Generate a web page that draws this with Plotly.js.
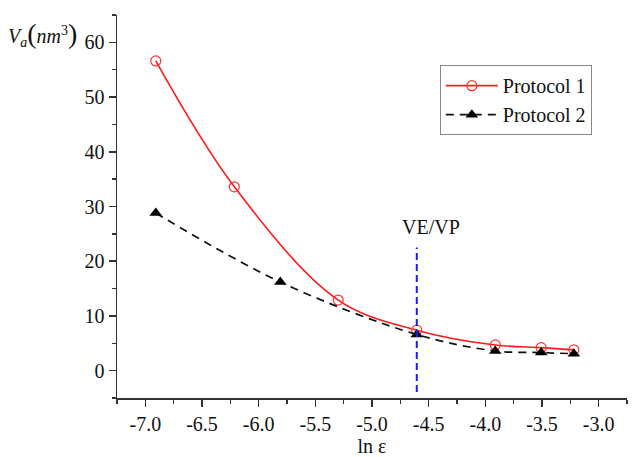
<!DOCTYPE html>
<html>
<head>
<meta charset="utf-8">
<script src="https://cdn.plot.ly/plotly-3.0.1.min.js"></script>
<style>
  html, body { margin: 0; padding: 0; background: #fff; }
  #chart { width: 634px; height: 457px; }
</style>
</head>
<body>
<div id="chart"></div>
<script>
// Activation volume against ln of strain rate for the two protocols
const p1X = [-6.908, -6.215, -5.298, -4.605, -3.912, -3.507, -3.219];
const p1Y = [56.6, 33.6, 12.9, 7.4, 4.7, 4.2, 3.8];

const p2X = [-6.908, -5.809, -4.605, -3.912, -3.507, -3.219];
const p2Y = [28.8, 16.2, 6.6, 3.6, 3.3, 3.1];

// VE/VP boundary marker
const boundaryX = [-4.605, -4.605];
const boundaryY = [-3.9, 22.5];

const xTickVals = [-7.0, -6.5, -6.0, -5.5, -5.0, -4.5, -4.0, -3.5, -3.0];
const xTickText = ['-7.0', '-6.5', '-6.0', '-5.5', '-5.0', '-4.5', '-4.0', '-3.5', '-3.0'];
const yTickVals = [0, 10, 20, 30, 40, 50, 60];
const yTickText = ['0', '10', '20', '30', '40', '50', '60'];

const serif = 'Liberation Serif, Times New Roman, serif';

const traces = [
  {
    x: p1X, y: p1Y, name: 'Protocol 1', type: 'scatter', mode: 'lines+markers',
    line: { color: '#ff1a1a', width: 1.6, shape: 'spline', smoothing: 1 },
    marker: { symbol: 'circle-open', size: 10, color: '#ff3333', line: { width: 1.2, color: '#ff3333' } }
  },
  {
    x: p2X, y: p2Y, name: 'Protocol 2', type: 'scatter', mode: 'lines+markers',
    line: { color: '#111', width: 1.7, dash: '8px,6px', shape: 'spline', smoothing: 1 },
    marker: { symbol: 'triangle-up', size: 11, color: '#000' }
  },
  {
    x: boundaryX, y: boundaryY, type: 'scatter', mode: 'lines', showlegend: false, hoverinfo: 'skip',
    line: { color: '#1a1aff', width: 2, dash: '7px,4px' }
  }
];

const layout = {
  width: 634, height: 457,
  margin: { l: 117, r: 7, t: 15, b: 59 },
  paper_bgcolor: '#fff', plot_bgcolor: '#fff',
  font: { family: serif, size: 20, color: '#111' },
  showlegend: true,
  legend: {
    x: 0.633, y: 0.869, xanchor: 'left', yanchor: 'top',
    bgcolor: '#fff', bordercolor: '#888', borderwidth: 1,
    font: { family: serif, size: 20, color: '#111' },
    tracegroupgap: 0, itemwidth: 52
  },
  xaxis: {
    range: [-7.25, -2.75],
    tickvals: xTickVals, ticktext: xTickText,
    ticks: 'outside', ticklen: 7, tickwidth: 1.5, tickcolor: '#333',
    minor: { dtick: 0.25, tick0: -7, ticks: 'outside', ticklen: 4, tickwidth: 1.5, tickcolor: '#333' },
    showline: true, linecolor: '#333', linewidth: 1.5,
    showgrid: false, zeroline: false,
    tickfont: { family: serif, size: 20, color: '#111' },
    title: { text: 'ln ε', font: { family: serif, size: 20, color: '#111' }, standoff: 8 }
  },
  yaxis: {
    range: [-5, 65],
    tickvals: yTickVals, ticktext: yTickText,
    ticks: 'outside', ticklen: 7, tickwidth: 1.5, tickcolor: '#333',
    minor: { dtick: 5, tick0: 0, ticks: 'outside', ticklen: 4, tickwidth: 1.5, tickcolor: '#333' },
    showline: true, linecolor: '#333', linewidth: 1.5,
    showgrid: false, zeroline: false,
    tickfont: { family: serif, size: 20, color: '#111' }
  },
  annotations: [
    {
      text: 'VE/VP', x: -4.48, y: 26.3, xref: 'x', yref: 'y', showarrow: false,
      font: { family: serif, size: 20, color: '#111' }
    },
    {
      text: '<i>V</i><sub><i>a</i></sub><span style="font-size:28px">(</span><i>nm</i><sup>3</sup><span style="font-size:28px">)</span>',
      x: -0.218, y: 0.95, xref: 'paper', yref: 'paper', xanchor: 'left', yanchor: 'middle',
      showarrow: false, font: { family: serif, size: 20, color: '#111' }
    }
  ]
};

Plotly.newPlot('chart', traces, layout, { displayModeBar: false, staticPlot: true });
</script>
</body>
</html>
